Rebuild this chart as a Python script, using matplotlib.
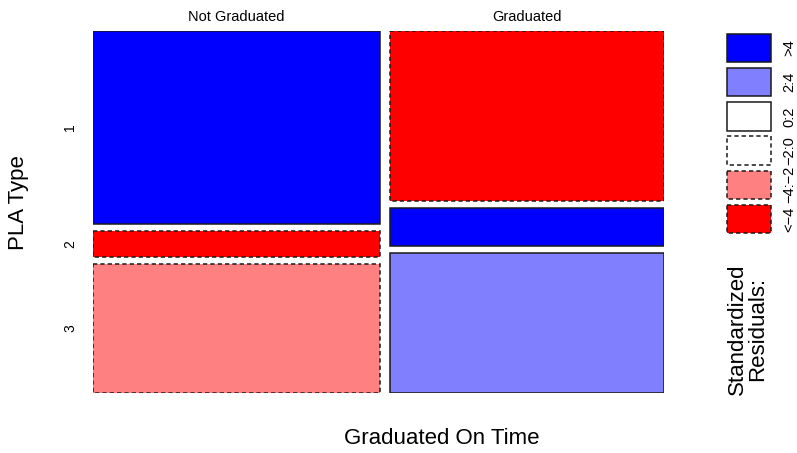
"""
Mosaic plot of PLA type against graduation on time,
shaded by standardized residuals (R vcd style)
"""

import numpy as np
from matplotlib import pyplot as plt
from matplotlib.patches import Rectangle

plt.rcParams['font.family'] = ['Liberation Sans', 'DejaVu Sans']

# Data
COLUMNS = ["Not Graduated", "Graduated"]
ROWS = ["1", "2", "3"]
# counts per column, rows 1..3 (estimated from tile areas)
counts_not_grad = [284, 38, 190]
counts_grad = [239, 53, 196]
# standardized residuals (estimated from the shading)
resid_not_grad = [4.5, -4.5, -3.0]
resid_grad = [-4.5, 4.5, 3.0]

LEGEND_LABELS = [">4", "2:4", "0:2", "\u22122:0", "\u22124:\u22122", "<\u22124"]
LEGEND_LEVELS = [5, 3, 1, -1, -3, -5]


def shade(r):
    if r > 4:
        return "#0000FF"
    if r > 2:
        return "#8080FF"
    if r < -4:
        return "#FF0000"
    if r < -2:
        return "#FF8080"
    return "white"


def style(r):
    return "solid" if r >= 0 else (0, (2.8, 2.0))


W, H = 797, 453
fig = plt.figure(figsize=(W / 100, H / 100), dpi=100)

# main mosaic area in pixels: x 93..664, y 31..393
ax = fig.add_axes([93 / W, 1 - 393 / H, 571 / W, 362 / H])
ax.set_xlim(0, 1)
ax.set_ylim(1, 0)
ax.axis("off")

counts = np.array([counts_not_grad, counts_grad], dtype=float)
resid = np.array([resid_not_grad, resid_grad])
gap_x = 10 / 571
gap_y = 7 / 362

col_frac = counts.sum(axis=1) / counts.sum()
col_w = col_frac * (1 - gap_x * (len(COLUMNS) - 1))

x0 = 0.0
for j, col in enumerate(COLUMNS):
    row_frac = counts[j] / counts[j].sum()
    row_h = row_frac * (1 - gap_y * (len(ROWS) - 1))
    y0 = 0.0
    for i in range(len(ROWS)):
        ax.add_patch(Rectangle(
            (x0, y0), col_w[j], row_h[i],
            facecolor=shade(resid[j, i]), edgecolor="#1a1a1a",
            linewidth=1.1, linestyle=style(resid[j, i])
        ))
        if j == 0:
            ax.text(-0.04, y0 + row_h[i] / 2, ROWS[i], rotation=90,
                    ha="center", va="center", fontsize=10)
        y0 += row_h[i] + gap_y
    ax.text(x0 + col_w[j] / 2, -0.02, col, ha="center", va="bottom",
            fontsize=10.5)
    x0 += col_w[j] + gap_x

fig.text(19 / W, 1 - 203 / H, "PLA Type", rotation=90,
         ha="center", va="center", fontsize=16)
fig.text(442 / W, 1 - 439 / H, "Graduated On Time",
         ha="center", va="center", fontsize=16)

# legend: boxes x 727..771, y 31..236
lax = fig.add_axes([727 / W, 1 - 236 / H, 44 / W, 205 / H])
lax.set_xlim(0, 1)
lax.set_ylim(len(LEGEND_LEVELS), 0)
lax.axis("off")
box_h = 0.83
for k, (lvl, lab) in enumerate(zip(LEGEND_LEVELS, LEGEND_LABELS)):
    lax.add_patch(Rectangle(
        (0.0, k + (1 - box_h) / 2), 1.0, box_h,
        facecolor=shade(lvl), edgecolor="#1a1a1a",
        linewidth=1.1, linestyle=style(lvl), clip_on=False
    ))
    lax.text(1.42, k + 0.5, lab, rotation=90, ha="center", va="center",
             fontsize=10.5)

fig.text(748 / W, 1 - 395 / H, "Standardized\nResiduals:", rotation=90,
         ha="center", va="bottom", fontsize=16, linespacing=0.95)

fig.savefig("out.png", dpi=100)
